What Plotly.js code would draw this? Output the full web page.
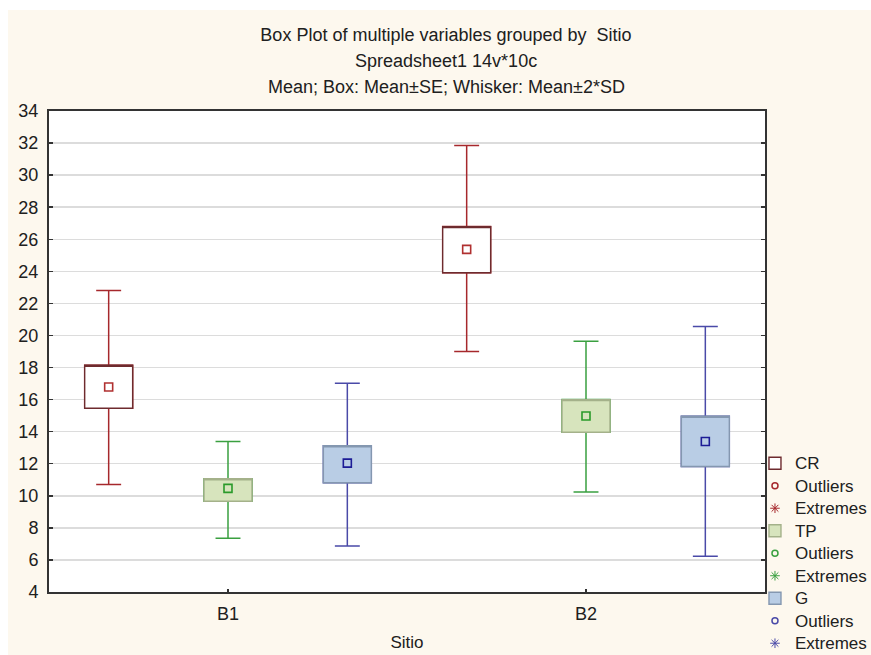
<!DOCTYPE html>
<html>
<head>
<meta charset="utf-8">
<script src="https://cdn.plot.ly/plotly-3.0.1.min.js"></script>
<style>
  html, body { margin: 0; padding: 0; background: #ffffff; }
  #chart { position: absolute; left: 8px; top: 10px; width: 863px; height: 645px; }
</style>
</head>
<body>
<div id="chart"></div>
<script>
// ---- data ----
const categories = ['B1', 'B2'];
const seriesNames = ['CR', 'TP', 'G'];

const crMean     = [16.79, 25.37];
const crBoxLow   = [15.46, 23.91];
const crBoxHigh  = [18.14, 26.79];
const crWhLow    = [10.71, 19.00];
const crWhHigh   = [22.81, 31.85];

const tpMean     = [10.46, 14.98];
const tpBoxLow   = [9.66, 13.96];
const tpBoxHigh  = [11.06, 16.00];
const tpWhLow    = [7.35, 10.23];
const tpWhHigh   = [13.39, 19.64];

const gMean      = [12.04, 13.39];
const gBoxLow    = [10.81, 11.83];
const gBoxHigh   = [13.12, 14.96];
const gWhLow     = [6.87, 6.23];
const gWhHigh    = [17.02, 20.56];

const yTicks = [4, 6, 8, 10, 12, 14, 16, 18, 20, 22, 24, 26, 28, 30, 32, 34];

// ---- styles ----
const styles = [
  { whisker: '#a6282c', border: '#6e2b2e', fill: '#ffffff', mean: '#b03030' },
  { whisker: '#3aa040', border: '#a4b18a', fill: '#d7e4bd', mean: '#2a9a2a' },
  { whisker: '#4a4aa8', border: '#8497b0', fill: '#b9cde5', mean: '#1c1c96' }
];
const offsets = [-1 / 3, 0, 1 / 3];
const boxWidth = 0.134;

const series = [
  { mean: crMean, lo: crBoxLow, hi: crBoxHigh, wl: crWhLow, wh: crWhHigh },
  { mean: tpMean, lo: tpBoxLow, hi: tpBoxHigh, wl: tpWhLow, wh: tpWhHigh },
  { mean: gMean,  lo: gBoxLow,  hi: gBoxHigh,  wl: gWhLow,  wh: gWhHigh }
];

const FONT = 'Liberation Sans, Arial, sans-serif';
const TEXT = '#202020';
const big = t => '<span style="font-size:17px">' + t + '</span>';

const whiskerTraces = [], boxTraces = [], meanTraces = [], legendDummies = [];
series.forEach((s, i) => {
  const xs = categories.map((c, k) => k + offsets[i]);
  const st = styles[i];
  whiskerTraces.push({
    type: 'box', x: xs, q1: s.lo, median: s.mean, q3: s.hi,
    lowerfence: s.wl, upperfence: s.wh,
    width: boxWidth, whiskerwidth: 0.52,
    line: { color: st.whisker, width: 1.5 }, fillcolor: 'rgba(0,0,0,0)',
    boxpoints: false, showlegend: false, hoverinfo: 'skip'
  });
  boxTraces.push({
    type: 'box', name: big(seriesNames[i]), x: xs, q1: s.lo, median: s.hi, q3: s.hi,
    lowerfence: s.lo, upperfence: s.hi,
    width: boxWidth, whiskerwidth: 0,
    line: { color: st.border, width: 1.4 }, fillcolor: st.fill,
    boxpoints: false, showlegend: true, legendrank: i * 3 + 1
  });
  meanTraces.push({
    type: 'scatter', mode: 'markers', x: xs, y: s.mean,
    marker: { symbol: 'square-open', size: 8, color: st.mean, line: { width: 1.6, color: st.mean } },
    showlegend: false, hoverinfo: 'y'
  });
  legendDummies.push({
    type: 'scatter', mode: 'markers', x: [null], y: [null], name: big('Outliers'),
    marker: { symbol: 'circle-open', size: 6, color: st.whisker, line: { width: 1.5, color: st.whisker } },
    showlegend: true, legendrank: i * 3 + 2
  });
  legendDummies.push({
    type: 'scatter', mode: 'markers', x: [null], y: [null], name: big('Extremes'),
    marker: { symbol: 'asterisk-open', size: 8, color: st.whisker, line: { width: 1, color: st.whisker } },
    showlegend: true, legendrank: i * 3 + 3
  });
});

const data = [].concat(whiskerTraces, boxTraces, meanTraces, legendDummies);

const TITLE_FONT = { family: FONT, size: 18, color: TEXT };

const layout = {
  width: 863, height: 645,
  paper_bgcolor: '#fdf8ee', plot_bgcolor: '#ffffff',
  margin: { l: 41, r: 106, t: 101, b: 63, autoexpand: false },
  font: { family: FONT, color: TEXT },
  boxmode: 'overlay',
  title: {
    text: 'Box Plot of multiple variables grouped by  Sitio',
    font: TITLE_FONT,
    xref: 'container', yref: 'container', x: 0.5075, y: 0.9612, xanchor: 'center', yanchor: 'middle'
  },
  annotations: [
    { text: 'Spreadsheet1 14v*10c', xref: 'paper', yref: 'paper', x: 0.5545, y: 1.104,
      xanchor: 'center', yanchor: 'middle', showarrow: false, font: TITLE_FONT },
    { text: 'Mean; Box: Mean±SE; Whisker: Mean±2*SD', xref: 'paper', yref: 'paper', x: 0.5545, y: 1.050,
      xanchor: 'center', yanchor: 'middle', showarrow: false, font: TITLE_FONT }
  ],
  xaxis: {
    range: [-0.5, 1.5], tickvals: categories.map((c, k) => k), ticktext: categories,
    ticks: 'inside', ticklen: 3, tickwidth: 1.5, tickcolor: '#333',
    showline: true, linecolor: '#333', linewidth: 2, mirror: true,
    showgrid: false, zeroline: false, ticklabelstandoff: 4,
    tickfont: { family: FONT, size: 18, color: TEXT },
    title: { text: 'Sitio', font: { family: FONT, size: 17, color: TEXT }, standoff: 14 }
  },
  yaxis: {
    range: [4, 34], tickvals: yTicks,
    ticks: 'inside', ticklen: 4, tickwidth: 1.5, tickcolor: '#333',
    showline: true, linecolor: '#333', linewidth: 2, mirror: 'ticks',
    showgrid: true, gridcolor: '#dcdcdc', gridwidth: 1.5, zeroline: false,
    ticklabelstandoff: 5,
    tickfont: { family: FONT, size: 18, color: TEXT }
  },
  legend: {
    x: 0.986, y: 0.3015, xanchor: 'left', yanchor: 'top',
    bgcolor: 'rgba(0,0,0,0)', borderwidth: 0, traceorder: 'normal', tracegroupgap: 0,
    font: { family: FONT, size: 15, color: TEXT }
  }
};

Plotly.newPlot('chart', data, layout, { staticPlot: true, displayModeBar: false });
</script>
</body>
</html>
